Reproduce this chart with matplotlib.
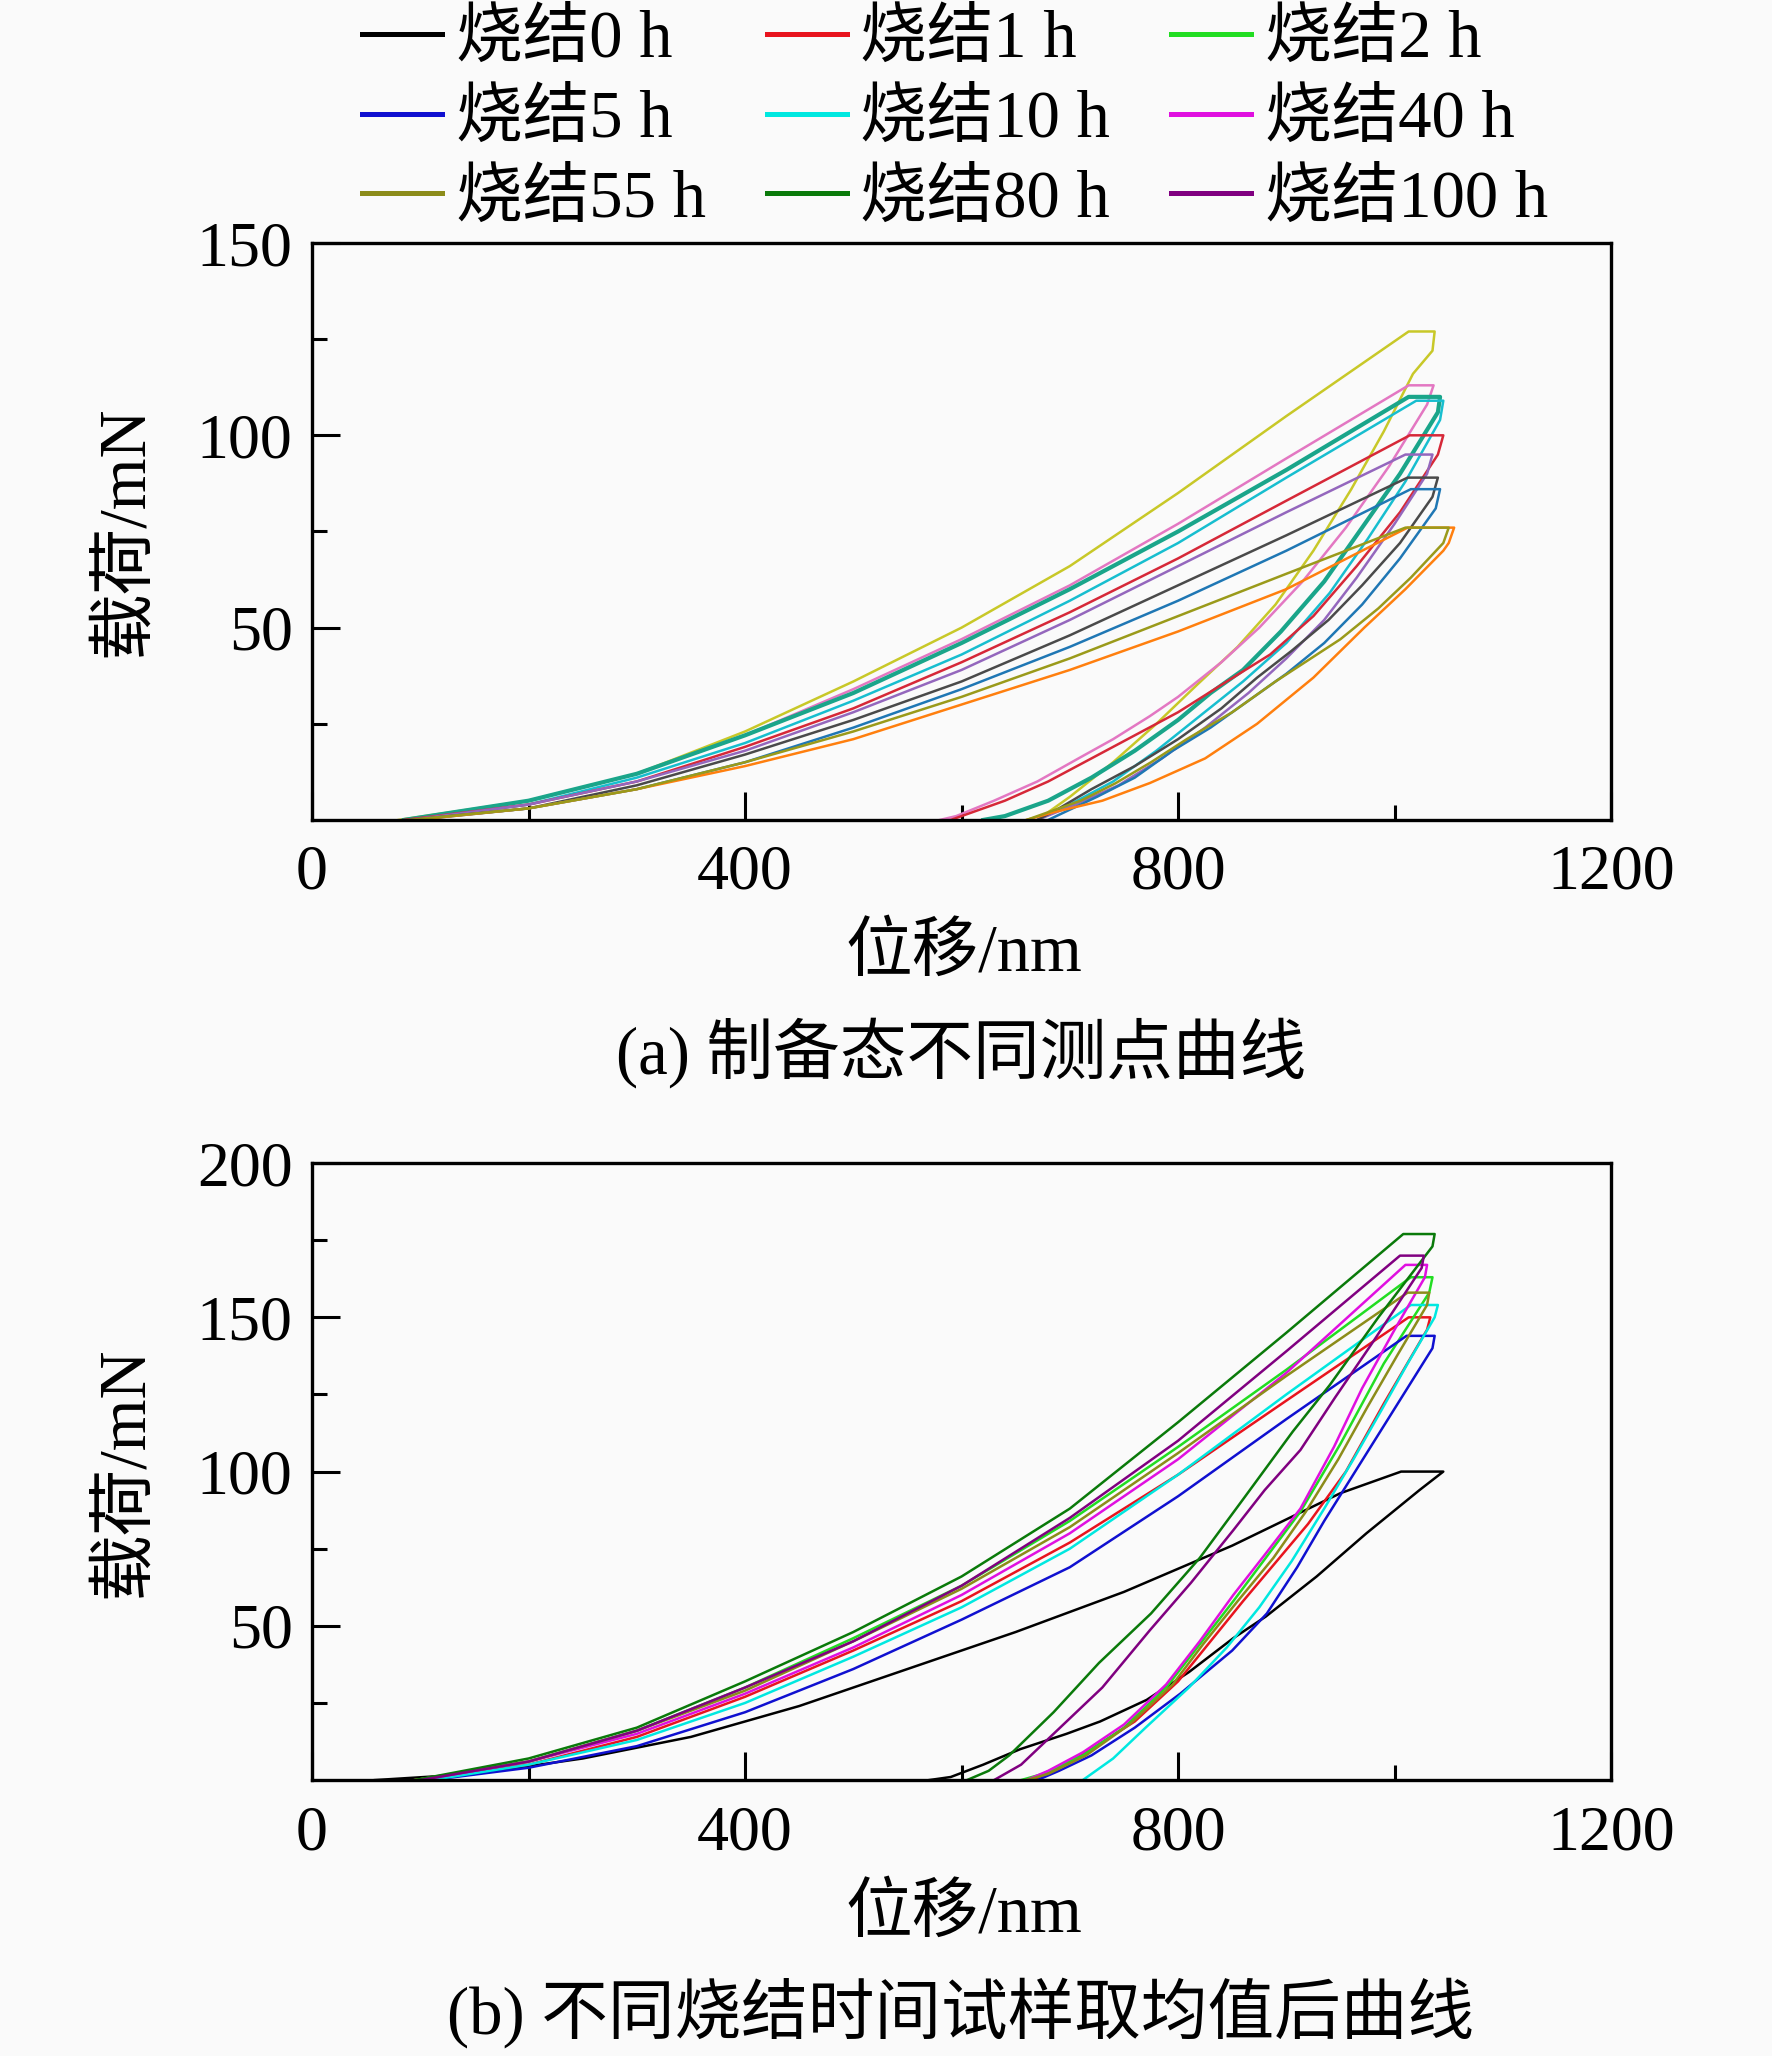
import matplotlib
matplotlib.use('Agg')
import matplotlib.pyplot as plt
from matplotlib.lines import Line2D
from matplotlib.ticker import FixedLocator

plt.rcParams['font.family'] = ['Liberation Serif', 'Noto Sans CJK SC']

# ---------------- (a) as-prepared, different test points ----------------
a_colors = ['#c8c828', '#e377c2', '#1aa58a', '#17becf', '#d62838',
            '#9467bd', '#4a4a4a', '#1f77b4', '#ff7f0e', '#9a9a1a']
a_load_x = [
    [80, 200, 300, 400, 500, 600, 700, 800, 900, 1013],
    [85, 200, 300, 400, 500, 600, 700, 800, 900, 1013],
    [85, 200, 300, 400, 500, 600, 700, 800, 900, 1013],
    [90, 200, 300, 400, 500, 600, 700, 800, 900, 1020],
    [85, 200, 300, 400, 500, 600, 700, 800, 900, 1014],
    [90, 200, 300, 400, 500, 600, 700, 800, 900, 1010],
    [90, 200, 300, 400, 500, 600, 700, 800, 900, 1012],
    [95, 200, 300, 400, 500, 600, 700, 800, 900, 1015],
    [95, 200, 300, 400, 500, 600, 700, 800, 900, 1012],
    [90, 200, 300, 400, 500, 600, 700, 800, 900, 1010],
]
a_load_y = [
    [0, 5, 12, 23, 36, 50, 66, 85, 105, 127],
    [0, 5, 12, 22, 34, 47, 61, 77, 94, 113],
    [0, 5, 12, 22, 33, 46, 60, 75, 91, 110],
    [0, 4, 11, 20, 31, 43, 57, 72, 89, 109],
    [0, 4, 10, 19, 29, 41, 54, 68, 83, 100],
    [0, 4, 10, 18, 28, 39, 52, 66, 80, 95],
    [0, 3, 9, 17, 26, 36, 48, 61, 74, 89],
    [0, 3, 8, 15, 24, 34, 45, 57, 70, 86],
    [0, 3, 8, 14, 21, 30, 39, 49, 60, 76],
    [0, 3, 8, 15, 23, 32, 42, 53, 64, 76],
]
a_unload_x = [
    [1037, 1035, 1017, 990, 960, 925, 890, 855, 817, 780, 740, 700, 670],
    [1036, 1030, 995, 955, 915, 875, 840, 800, 774, 740, 708, 670, 630, 595, 580],
    [1042, 1040, 1005, 970, 935, 895, 860, 830, 800, 760, 720, 680, 640, 620],
    [1045, 1042, 1010, 975, 940, 900, 860, 820, 780, 740, 700, 670],
    [1045, 1040, 1005, 965, 925, 885, 845, 800, 760, 720, 680, 640, 600, 590],
    [1035, 1030, 1000, 965, 935, 900, 865, 825, 785, 745, 705, 670],
    [1040, 1035, 1005, 970, 939, 905, 873, 840, 800, 760, 720, 690, 670],
    [1042, 1038, 1005, 970, 935, 900, 865, 830, 795, 760, 725, 695, 680],
    [1055, 1050, 1045, 1010, 972, 925, 873, 825, 774, 730, 685, 660],
    [1050, 1045, 1015, 985, 950, 890, 850, 808, 775, 742, 710, 680, 660],
]
a_unload_y = [
    [127, 122, 116, 101, 86, 70, 56, 45, 35, 25, 15, 6, 0],
    [113, 108, 92, 76, 62, 50, 41, 32, 27, 21, 16, 10, 5, 1, 0],
    [110, 106, 90, 76, 62, 49, 39, 33, 26, 18, 11, 5, 1, 0],
    [109, 104, 88, 73, 59, 46, 36, 27, 18, 10, 4, 0],
    [100, 95, 80, 66, 53, 43, 36, 28, 22, 16, 10, 5, 1, 0],
    [95, 90, 77, 63, 52, 42, 33, 24, 16, 9, 4, 0],
    [89, 84, 72, 61, 52, 44, 37, 29, 21, 14, 8, 3, 0],
    [86, 81, 68, 56, 46, 38, 31, 24, 18, 11, 6, 2, 0],
    [76, 72, 70, 60, 50, 37, 25, 16, 9.6, 5, 2, 0],
    [76, 72, 63, 55, 47, 36, 28, 21, 15, 9.5, 5, 2, 0],
]

# ---------------- (b) averaged curves, different sintering times ----------------
b_labels = ['烧结0 h', '烧结1 h', '烧结2 h', '烧结5 h', '烧结10 h',
            '烧结40 h', '烧结55 h', '烧结80 h', '烧结100 h']
b_colors = ['#000000', '#e8141e', '#22dd22', '#1010d0', '#00e8e0',
            '#e010e0', '#8c8c1a', '#0a7a0a', '#800080']
b_load_x = [
    [58, 150, 250, 350, 450, 550, 650, 750, 850, 950, 1006],
    [95, 200, 300, 400, 500, 600, 700, 800, 900, 1013],
    [95, 200, 300, 400, 500, 600, 700, 800, 900, 1015],
    [110, 200, 300, 400, 500, 600, 700, 800, 900, 1011],
    [110, 200, 300, 400, 500, 600, 700, 800, 900, 1015],
    [100, 200, 300, 400, 500, 600, 700, 800, 900, 1010],
    [95, 200, 300, 400, 500, 600, 700, 800, 900, 1012],
    [95, 200, 300, 400, 500, 600, 700, 800, 900, 1008],
    [100, 200, 300, 400, 500, 600, 700, 800, 900, 1005],
]
b_load_y = [
    [0, 2, 7, 14, 24, 36, 48, 61, 76, 93, 100],
    [0, 5, 14, 27, 42, 58, 77, 99, 123, 150],
    [0, 6, 16, 30, 46, 63, 84, 108, 133, 163],
    [0, 4, 11, 22, 36, 52, 69, 92, 117, 144],
    [0, 5, 13, 25, 40, 56, 75, 99, 125, 154],
    [0, 6, 15, 28, 43, 60, 80, 104, 132, 167],
    [0, 6, 16, 29, 45, 62, 82, 106, 131, 158],
    [0, 7, 17, 32, 48, 66, 88, 116, 145, 177],
    [0, 6, 16, 30, 45, 63, 85, 110, 139, 170],
]
b_unload_x = [
    [1045, 1023, 974, 928, 881, 851, 810, 771, 728, 697, 654, 620, 590, 570],
    [1033, 1030, 990, 955, 920, 860, 800, 760, 715, 685, 665],
    [1035, 1032, 990, 950, 913, 851, 789, 750, 712, 675, 655],
    [1037, 1035, 1010, 985, 960, 935, 910, 882, 850, 802, 760, 720, 690, 670],
    [1040, 1037, 1012, 988, 962, 935, 905, 875, 845, 810, 770, 740, 712],
    [1030, 1028, 1000, 970, 944, 913, 880, 851, 820, 789, 750, 712, 680, 660],
    [1032, 1030, 1003, 975, 948, 918, 888, 855, 823, 795, 755, 715, 680, 660],
    [1037, 1035, 985, 940, 906, 860, 820, 775, 727, 685, 644, 625, 605],
    [1027, 1025, 980, 945, 913, 880, 851, 812, 774, 730, 682, 655, 630],
]
b_unload_y = [
    [100, 94, 80, 66, 53, 46, 35, 26, 19, 15, 10, 5, 1, 0],
    [150, 146, 122, 100, 83, 58, 32, 19, 9, 3, 0],
    [163, 158, 135, 109, 87, 58, 30, 17, 8, 2, 0],
    [144, 140, 126, 112, 98, 84, 69, 54, 42, 28, 17, 8, 3, 0],
    [154, 150, 135, 120, 104, 88, 71, 56, 43, 30, 17, 7, 0],
    [167, 163, 146, 127, 108, 88, 73, 60, 45, 31, 18, 9, 3, 0],
    [158, 154, 138, 121, 104, 87, 72, 58, 44, 31, 18, 8, 2, 0],
    [177, 173, 150, 128, 113, 91, 72, 54, 38, 22, 8, 3, 0],
    [170, 166, 142, 124, 107, 94, 81, 64, 48.6, 30, 14, 5, 0],
]

x_major = [0, 400, 800, 1200]
x_minor = [200, 600, 1000]

bg = '#fafafa'
fig = plt.figure(figsize=(8.86, 10.28), dpi=200, facecolor=bg)
ax_a = fig.add_axes([0.1761, 0.6012, 0.7331, 0.2806], facecolor=bg)
ax_b = fig.add_axes([0.1761, 0.1342, 0.7331, 0.3001], facecolor=bg)


def style_axis(ax, ymax, ymajor, yminor):
    ax.set_xlim(0, 1200)
    ax.set_ylim(0, ymax)
    ax.xaxis.set_major_locator(FixedLocator(x_major))
    ax.xaxis.set_minor_locator(FixedLocator(x_minor))
    ax.yaxis.set_major_locator(FixedLocator(ymajor))
    ax.yaxis.set_minor_locator(FixedLocator(yminor))
    ax.tick_params(which='both', direction='in', top=False, right=False, width=1.1)
    ax.tick_params(which='major', length=10, labelsize=23)
    ax.tick_params(which='minor', length=5.5)
    ax.tick_params(axis='x', which='major', pad=9)
    ax.tick_params(axis='y', which='major', pad=7)
    for s in ax.spines.values():
        s.set_linewidth(1.2)


# panel (a)
for i in range(len(a_colors)):
    xs = a_load_x[i] + a_unload_x[i]
    ys = a_load_y[i] + a_unload_y[i]
    lw = 1.5 if i == 2 else 0.9
    ax_a.plot(xs, ys, color=a_colors[i], lw=lw)
style_axis(ax_a, 150, [50, 100, 150], [25, 75, 125])

# panel (b)
for i in range(len(b_labels)):
    xs = b_load_x[i] + b_unload_x[i]
    ys = b_load_y[i] + b_unload_y[i]
    ax_b.plot(xs, ys, color=b_colors[i], lw=0.9)
style_axis(ax_b, 200, [50, 100, 150, 200], [25, 75, 125, 175])

# legend, filled row by row
order = [0, 3, 6, 1, 4, 7, 2, 5, 8]
handles = [Line2D([], [], color=b_colors[k], lw=1.8) for k in order]
labels = [b_labels[k] for k in order]
fig.legend(handles, labels, ncol=3, loc='center', bbox_to_anchor=(0.539, 0.9415),
           frameon=False, fontsize=24, handlelength=1.2, handletextpad=0.2,
           columnspacing=0.92, labelspacing=0.28, borderpad=0)

# axis labels and captions
fig.text(0.544, 0.536, '位移/nm', fontsize=24, ha='center', va='center')
fig.text(0.544, 0.0686, '位移/nm', fontsize=24, ha='center', va='center')
fig.text(0.0705, 0.7417, '载荷/mN', fontsize=24, ha='center', va='center', rotation=90)
fig.text(0.0705, 0.284, '载荷/mN', fontsize=24, ha='center', va='center', rotation=90)
fig.text(0.5423, 0.4878, '(a) 制备态不同测点曲线', fontsize=24, ha='center', va='center')
fig.text(0.5423, 0.0209, '(b) 不同烧结时间试样取均值后曲线', fontsize=24, ha='center', va='center')

fig.savefig('out.png', dpi=200, facecolor=bg)
